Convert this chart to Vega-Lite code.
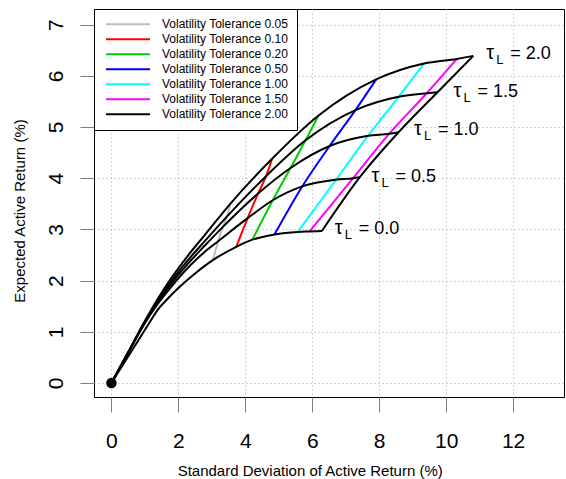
{
  "$schema": "https://vega.github.io/schema/vega-lite/v6.json",
  "width": 470,
  "height": 388,
  "autosize": {"type": "none"},
  "padding": {"left": 94, "top": 9, "right": 2, "bottom": 82},
  "background": "white",
  "config": {
    "font": "Liberation Sans",
    "view": {"stroke": "black", "strokeWidth": 1},
    "axis": {
      "domain": false,
      "grid": true,
      "gridDash": [1, 3],
      "gridColor": "#a8a8a8",
      "gridWidth": 1,
      "tickColor": "#808080",
      "tickWidth": 1,
      "labelColor": "black",
      "labelFont": "Liberation Sans",
      "labelFontSize": 21,
      "titleFont": "Liberation Sans",
      "titleFontSize": 15,
      "titleFontWeight": "normal",
      "titleColor": "black"
    },
    "legend": {
      "orient": "top-left",
      "offset": 0,
      "padding": 8,
      "strokeColor": "black",
      "fillColor": "white",
      "symbolType": "stroke",
      "symbolSize": 1936,
      "symbolStrokeWidth": 2,
      "symbolOffset": 3,
      "clipHeight": 14.67,
      "rowPadding": 0,
      "labelFontSize": 12,
      "labelFont": "Liberation Sans",
      "labelColor": "black",
      "labelOffset": 11,
      "labelLimit": 400
    }
  },
  "datasets": {
    "tol": [
      {"tol": "Volatility Tolerance 0.05", "k": 0, "sd": 3.03, "ret": 2.40},
      {"tol": "Volatility Tolerance 0.05", "k": 1, "sd": 3.19, "ret": 2.77},
      {"tol": "Volatility Tolerance 0.05", "k": 2, "sd": 3.33, "ret": 3.05},
      {"tol": "Volatility Tolerance 0.05", "k": 3, "sd": 3.45, "ret": 3.25},
      {"tol": "Volatility Tolerance 0.05", "k": 4, "sd": 3.55, "ret": 3.50},
      {"tol": "Volatility Tolerance 0.10", "k": 0, "sd": 3.73, "ret": 2.66},
      {"tol": "Volatility Tolerance 0.10", "k": 1, "sd": 4.07, "ret": 3.22},
      {"tol": "Volatility Tolerance 0.10", "k": 2, "sd": 4.38, "ret": 3.70},
      {"tol": "Volatility Tolerance 0.10", "k": 3, "sd": 4.62, "ret": 4.04},
      {"tol": "Volatility Tolerance 0.10", "k": 4, "sd": 4.80, "ret": 4.38},
      {"tol": "Volatility Tolerance 0.20", "k": 0, "sd": 4.21, "ret": 2.80},
      {"tol": "Volatility Tolerance 0.20", "k": 1, "sd": 4.82, "ret": 3.57},
      {"tol": "Volatility Tolerance 0.20", "k": 2, "sd": 5.35, "ret": 4.20},
      {"tol": "Volatility Tolerance 0.20", "k": 3, "sd": 5.80, "ret": 4.74},
      {"tol": "Volatility Tolerance 0.20", "k": 4, "sd": 6.18, "ret": 5.22},
      {"tol": "Volatility Tolerance 0.50", "k": 0, "sd": 4.87, "ret": 2.90},
      {"tol": "Volatility Tolerance 0.50", "k": 1, "sd": 5.70, "ret": 3.84},
      {"tol": "Volatility Tolerance 0.50", "k": 2, "sd": 6.52, "ret": 4.63},
      {"tol": "Volatility Tolerance 0.50", "k": 3, "sd": 7.29, "ret": 5.33},
      {"tol": "Volatility Tolerance 0.50", "k": 4, "sd": 7.91, "ret": 5.93},
      {"tol": "Volatility Tolerance 1.00", "k": 0, "sd": 5.57, "ret": 2.95},
      {"tol": "Volatility Tolerance 1.00", "k": 1, "sd": 6.71, "ret": 3.97},
      {"tol": "Volatility Tolerance 1.00", "k": 2, "sd": 7.67, "ret": 4.83},
      {"tol": "Volatility Tolerance 1.00", "k": 3, "sd": 8.58, "ret": 5.59},
      {"tol": "Volatility Tolerance 1.00", "k": 4, "sd": 9.34, "ret": 6.24},
      {"tol": "Volatility Tolerance 1.50", "k": 0, "sd": 5.92, "ret": 2.96},
      {"tol": "Volatility Tolerance 1.50", "k": 1, "sd": 7.22, "ret": 4.00},
      {"tol": "Volatility Tolerance 1.50", "k": 2, "sd": 8.30, "ret": 4.87},
      {"tol": "Volatility Tolerance 1.50", "k": 3, "sd": 9.42, "ret": 5.66},
      {"tol": "Volatility Tolerance 1.50", "k": 4, "sd": 10.32, "ret": 6.33},
      {"tol": "Volatility Tolerance 2.00", "k": 0, "sd": 6.29, "ret": 2.97},
      {"tol": "Volatility Tolerance 2.00", "k": 1, "sd": 7.42, "ret": 4.02},
      {"tol": "Volatility Tolerance 2.00", "k": 2, "sd": 8.58, "ret": 4.90},
      {"tol": "Volatility Tolerance 2.00", "k": 3, "sd": 9.74, "ret": 5.68},
      {"tol": "Volatility Tolerance 2.00", "k": 4, "sd": 10.81, "ret": 6.39}
    ],
    "front": [
      {"tau": "0.0", "k": 0, "sd": 0, "ret": 0},
      {"tau": "0.0", "k": 1, "sd": 0.67, "ret": 0.695},
      {"tau": "0.0", "k": 2, "sd": 1.2, "ret": 1.245},
      {"tau": "0.0", "k": 3, "sd": 1.34, "ret": 1.39},
      {"tau": "0.0", "k": 4, "sd": 1.70, "ret": 1.66},
      {"tau": "0.0", "k": 5, "sd": 2.04, "ret": 1.88},
      {"tau": "0.0", "k": 6, "sd": 2.50, "ret": 2.14},
      {"tau": "0.0", "k": 7, "sd": 3.03, "ret": 2.40},
      {"tau": "0.0", "k": 8, "sd": 3.73, "ret": 2.66},
      {"tau": "0.0", "k": 9, "sd": 4.21, "ret": 2.80},
      {"tau": "0.0", "k": 10, "sd": 4.87, "ret": 2.90},
      {"tau": "0.0", "k": 11, "sd": 5.57, "ret": 2.95},
      {"tau": "0.0", "k": 12, "sd": 5.92, "ret": 2.96},
      {"tau": "0.0", "k": 13, "sd": 6.29, "ret": 2.97},
      {"tau": "0.5", "k": 0, "sd": 0, "ret": 0},
      {"tau": "0.5", "k": 1, "sd": 0.5, "ret": 0.585},
      {"tau": "0.5", "k": 2, "sd": 1.0, "ret": 1.17},
      {"tau": "0.5", "k": 3, "sd": 1.4, "ret": 1.56},
      {"tau": "0.5", "k": 4, "sd": 1.8, "ret": 1.89},
      {"tau": "0.5", "k": 5, "sd": 2.3, "ret": 2.26},
      {"tau": "0.5", "k": 6, "sd": 2.8, "ret": 2.57},
      {"tau": "0.5", "k": 7, "sd": 3.19, "ret": 2.77},
      {"tau": "0.5", "k": 8, "sd": 4.07, "ret": 3.22},
      {"tau": "0.5", "k": 9, "sd": 4.82, "ret": 3.57},
      {"tau": "0.5", "k": 10, "sd": 5.70, "ret": 3.84},
      {"tau": "0.5", "k": 11, "sd": 6.71, "ret": 3.97},
      {"tau": "0.5", "k": 12, "sd": 7.22, "ret": 4.00},
      {"tau": "0.5", "k": 13, "sd": 7.42, "ret": 4.02},
      {"tau": "1.0", "k": 0, "sd": 0, "ret": 0},
      {"tau": "1.0", "k": 1, "sd": 0.5, "ret": 0.595},
      {"tau": "1.0", "k": 2, "sd": 1.0, "ret": 1.19},
      {"tau": "1.0", "k": 3, "sd": 1.4, "ret": 1.60},
      {"tau": "1.0", "k": 4, "sd": 1.8, "ret": 1.95},
      {"tau": "1.0", "k": 5, "sd": 2.3, "ret": 2.34},
      {"tau": "1.0", "k": 6, "sd": 2.8, "ret": 2.69},
      {"tau": "1.0", "k": 7, "sd": 3.33, "ret": 3.05},
      {"tau": "1.0", "k": 8, "sd": 4.38, "ret": 3.70},
      {"tau": "1.0", "k": 9, "sd": 5.35, "ret": 4.20},
      {"tau": "1.0", "k": 10, "sd": 6.52, "ret": 4.63},
      {"tau": "1.0", "k": 11, "sd": 7.67, "ret": 4.83},
      {"tau": "1.0", "k": 12, "sd": 8.30, "ret": 4.87},
      {"tau": "1.0", "k": 13, "sd": 8.58, "ret": 4.90},
      {"tau": "1.5", "k": 0, "sd": 0, "ret": 0},
      {"tau": "1.5", "k": 1, "sd": 0.5, "ret": 0.60},
      {"tau": "1.5", "k": 2, "sd": 1.0, "ret": 1.20},
      {"tau": "1.5", "k": 3, "sd": 1.4, "ret": 1.63},
      {"tau": "1.5", "k": 4, "sd": 1.8, "ret": 2.00},
      {"tau": "1.5", "k": 5, "sd": 2.3, "ret": 2.41},
      {"tau": "1.5", "k": 6, "sd": 2.8, "ret": 2.78},
      {"tau": "1.5", "k": 7, "sd": 3.45, "ret": 3.25},
      {"tau": "1.5", "k": 8, "sd": 4.62, "ret": 4.04},
      {"tau": "1.5", "k": 9, "sd": 5.80, "ret": 4.74},
      {"tau": "1.5", "k": 10, "sd": 7.29, "ret": 5.33},
      {"tau": "1.5", "k": 11, "sd": 8.58, "ret": 5.59},
      {"tau": "1.5", "k": 12, "sd": 9.42, "ret": 5.66},
      {"tau": "1.5", "k": 13, "sd": 9.74, "ret": 5.68},
      {"tau": "2.0", "k": 0, "sd": 0, "ret": 0},
      {"tau": "2.0", "k": 1, "sd": 0.5, "ret": 0.60},
      {"tau": "2.0", "k": 2, "sd": 1.0, "ret": 1.21},
      {"tau": "2.0", "k": 3, "sd": 1.4, "ret": 1.66},
      {"tau": "2.0", "k": 4, "sd": 1.8, "ret": 2.06},
      {"tau": "2.0", "k": 5, "sd": 2.3, "ret": 2.50},
      {"tau": "2.0", "k": 6, "sd": 2.8, "ret": 2.90},
      {"tau": "2.0", "k": 7, "sd": 3.55, "ret": 3.50},
      {"tau": "2.0", "k": 8, "sd": 4.80, "ret": 4.38},
      {"tau": "2.0", "k": 9, "sd": 6.18, "ret": 5.22},
      {"tau": "2.0", "k": 10, "sd": 7.91, "ret": 5.93},
      {"tau": "2.0", "k": 11, "sd": 9.34, "ret": 6.24},
      {"tau": "2.0", "k": 12, "sd": 10.32, "ret": 6.33},
      {"tau": "2.0", "k": 13, "sd": 10.81, "ret": 6.39}
    ],
    "labels": [
      {"rest": "= 2.0", "sd": 11.20, "ret": 6.336},
      {"rest": "= 1.5", "sd": 10.22, "ret": 5.586},
      {"rest": "= 1.0", "sd": 9.04, "ret": 4.838},
      {"rest": "= 0.5", "sd": 7.77, "ret": 3.926},
      {"rest": "= 0.0", "sd": 6.67, "ret": 2.918}
    ],
    "origin": [{"sd": 0, "ret": 0}]
  },
  "layer": [
    {
      "data": {"name": "tol"},
      "mark": {"type": "line", "strokeWidth": 2, "interpolate": "monotone"},
      "encoding": {
        "x": {
          "field": "sd", "type": "quantitative",
          "scale": {"domain": [-0.52, 13.52], "nice": false, "zero": false},
          "axis": {
            "values": [0, 2, 4, 6, 8, 10, 12],
            "tickSize": 15,
            "labelBaseline": "alphabetic",
            "labelPadding": 35,
            "title": "Standard Deviation of Active Return (%)",
            "titleX": 215.7,
            "titleY": 78.3,
            "titleAlign": "center",
            "titleBaseline": "alphabetic"
          }
        },
        "y": {
          "field": "ret", "type": "quantitative",
          "scale": {"domain": [-0.273, 7.305], "nice": false, "zero": false},
          "axis": {
            "values": [0, 1, 2, 3, 4, 5, 6, 7],
            "tickSize": 14,
            "labelAngle": 270,
            "labelAlign": "center",
            "labelBaseline": "alphabetic",
            "labelPadding": 18,
            "title": "Expected Active Return (%)",
            "titleAngle": 270,
            "titleX": -70,
            "titleY": 201.5,
            "titleAlign": "center",
            "titleBaseline": "alphabetic"
          }
        },
        "color": {
          "field": "tol", "type": "nominal",
          "scale": {
            "domain": ["Volatility Tolerance 0.05", "Volatility Tolerance 0.10", "Volatility Tolerance 0.20", "Volatility Tolerance 0.50", "Volatility Tolerance 1.00", "Volatility Tolerance 1.50", "Volatility Tolerance 2.00"],
            "range": ["#BEBEBE", "#FF0000", "#00CD00", "#0000FF", "#00FFFF", "#FF00FF", "#000000"]
          },
          "legend": {"title": null}
        },
        "order": {"field": "k", "type": "quantitative"}
      }
    },
    {
      "data": {"name": "front"},
      "mark": {"type": "line", "strokeWidth": 2, "color": "black", "interpolate": "monotone"},
      "encoding": {
        "x": {"field": "sd", "type": "quantitative"},
        "y": {"field": "ret", "type": "quantitative"},
        "detail": {"field": "tau", "type": "nominal"},
        "order": {"field": "k", "type": "quantitative"}
      }
    },
    {
      "data": {"name": "origin"},
      "mark": {"type": "point", "filled": true, "color": "black", "opacity": 1, "size": 110},
      "encoding": {
        "x": {"field": "sd", "type": "quantitative"},
        "y": {"field": "ret", "type": "quantitative"}
      }
    },
    {
      "data": {"name": "labels"},
      "mark": {"type": "text", "text": "τ", "align": "left", "baseline": "alphabetic", "fontSize": 20, "font": "Liberation Sans", "color": "black"},
      "encoding": {
        "x": {"field": "sd", "type": "quantitative"},
        "y": {"field": "ret", "type": "quantitative"}
      }
    },
    {
      "data": {"name": "labels"},
      "mark": {"type": "text", "text": "L", "align": "left", "baseline": "alphabetic", "fontSize": 13, "font": "Liberation Sans", "color": "black", "dx": 10, "dy": 5},
      "encoding": {
        "x": {"field": "sd", "type": "quantitative"},
        "y": {"field": "ret", "type": "quantitative"}
      }
    },
    {
      "data": {"name": "labels"},
      "mark": {"type": "text", "align": "left", "baseline": "alphabetic", "fontSize": 18, "font": "Liberation Sans", "color": "black", "dx": 24},
      "encoding": {
        "x": {"field": "sd", "type": "quantitative"},
        "y": {"field": "ret", "type": "quantitative"},
        "text": {"field": "rest"}
      }
    }
  ]
}
